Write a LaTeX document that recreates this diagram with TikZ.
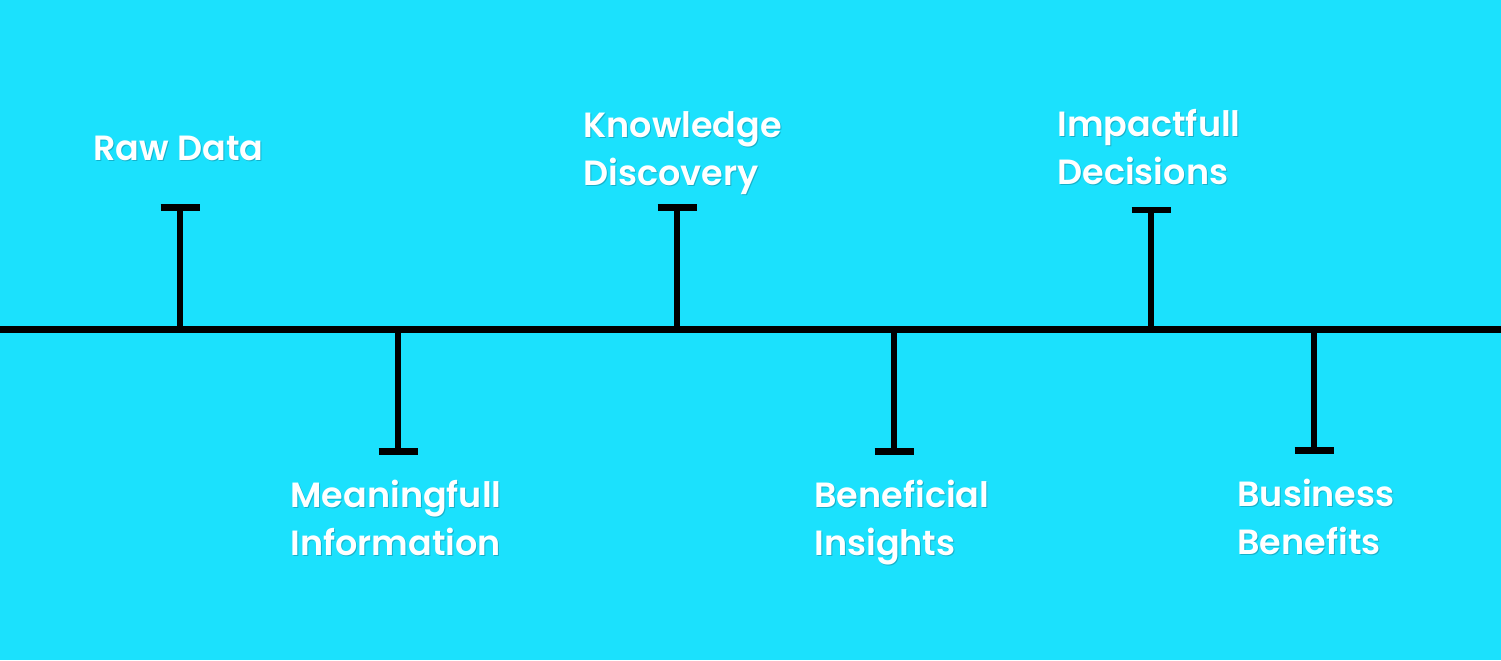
\documentclass[tikz,border=0pt]{standalone}
\usepackage{fontspec}
\setmainfont{Poppins}[BoldFont={Poppins SemiBold}]
\definecolor{bgcyan}{RGB}{27,225,253}
\definecolor{shadowc}{RGB}{10,90,110}
\tikzset{
  axisline/.style={line width=3.2pt, black},
  tickline/.style={line width=3pt, black},
  capline/.style={line width=3.4pt, black},
  lbltext/.style={anchor=base west, inner sep=0pt, font=\fontsize{17.5}{24}\selectfont\bfseries, align=left},
  lbl/.style={lbltext, text=white},
  lblshadow/.style={lbltext, text=shadowc, opacity=0.35},
}
\newcommand{\steplabel}[3]{%
  \node[lblshadow] at ($#2+(1,1.5)$) {#3};
  \node[lbl] (#1) at #2 {#3};
}
\usetikzlibrary{calc}
\begin{document}
\begin{tikzpicture}[x=0.5pt,y=-0.5pt]
\fill[bgcyan] (0,0) rectangle (1501,660);
\useasboundingbox (0,0) rectangle (1501,660);
% axis
\coordinate (L) at (0,329.5);
\coordinate (R) at (1501,329.5);
\draw[axisline] (L) -- (R);
% ticks
\foreach \n/\x/\y in {a/180/207.5, b/398/451.5, c/677/207.5, d/894/451.5, e/1151/210, f/1314/450.5}{
  \coordinate (\n0) at (\x,329.5);
  \coordinate (\n1) at (\x,\y);
  \coordinate (\n2) at (\x-19.5,\y);
  \coordinate (\n3) at (\x+19.5,\y);
  \draw[tickline] (\n0) -- (\n1);
  \draw[capline] (\n2) -- (\n3);
}
% labels
\steplabel{t1}{(93,160)}{Raw Data}
\steplabel{t2}{(290,555)}{Meaningfull\\Information}
\steplabel{t3}{(583,185)}{Knowledge\\Discovery}
\steplabel{t4}{(814,555)}{Beneficial\\Insights}
\steplabel{t5}{(1057,184)}{Impactfull\\Decisions}
\steplabel{t6}{(1237,554)}{Business\\Benefits}
\end{tikzpicture}
\end{document}
